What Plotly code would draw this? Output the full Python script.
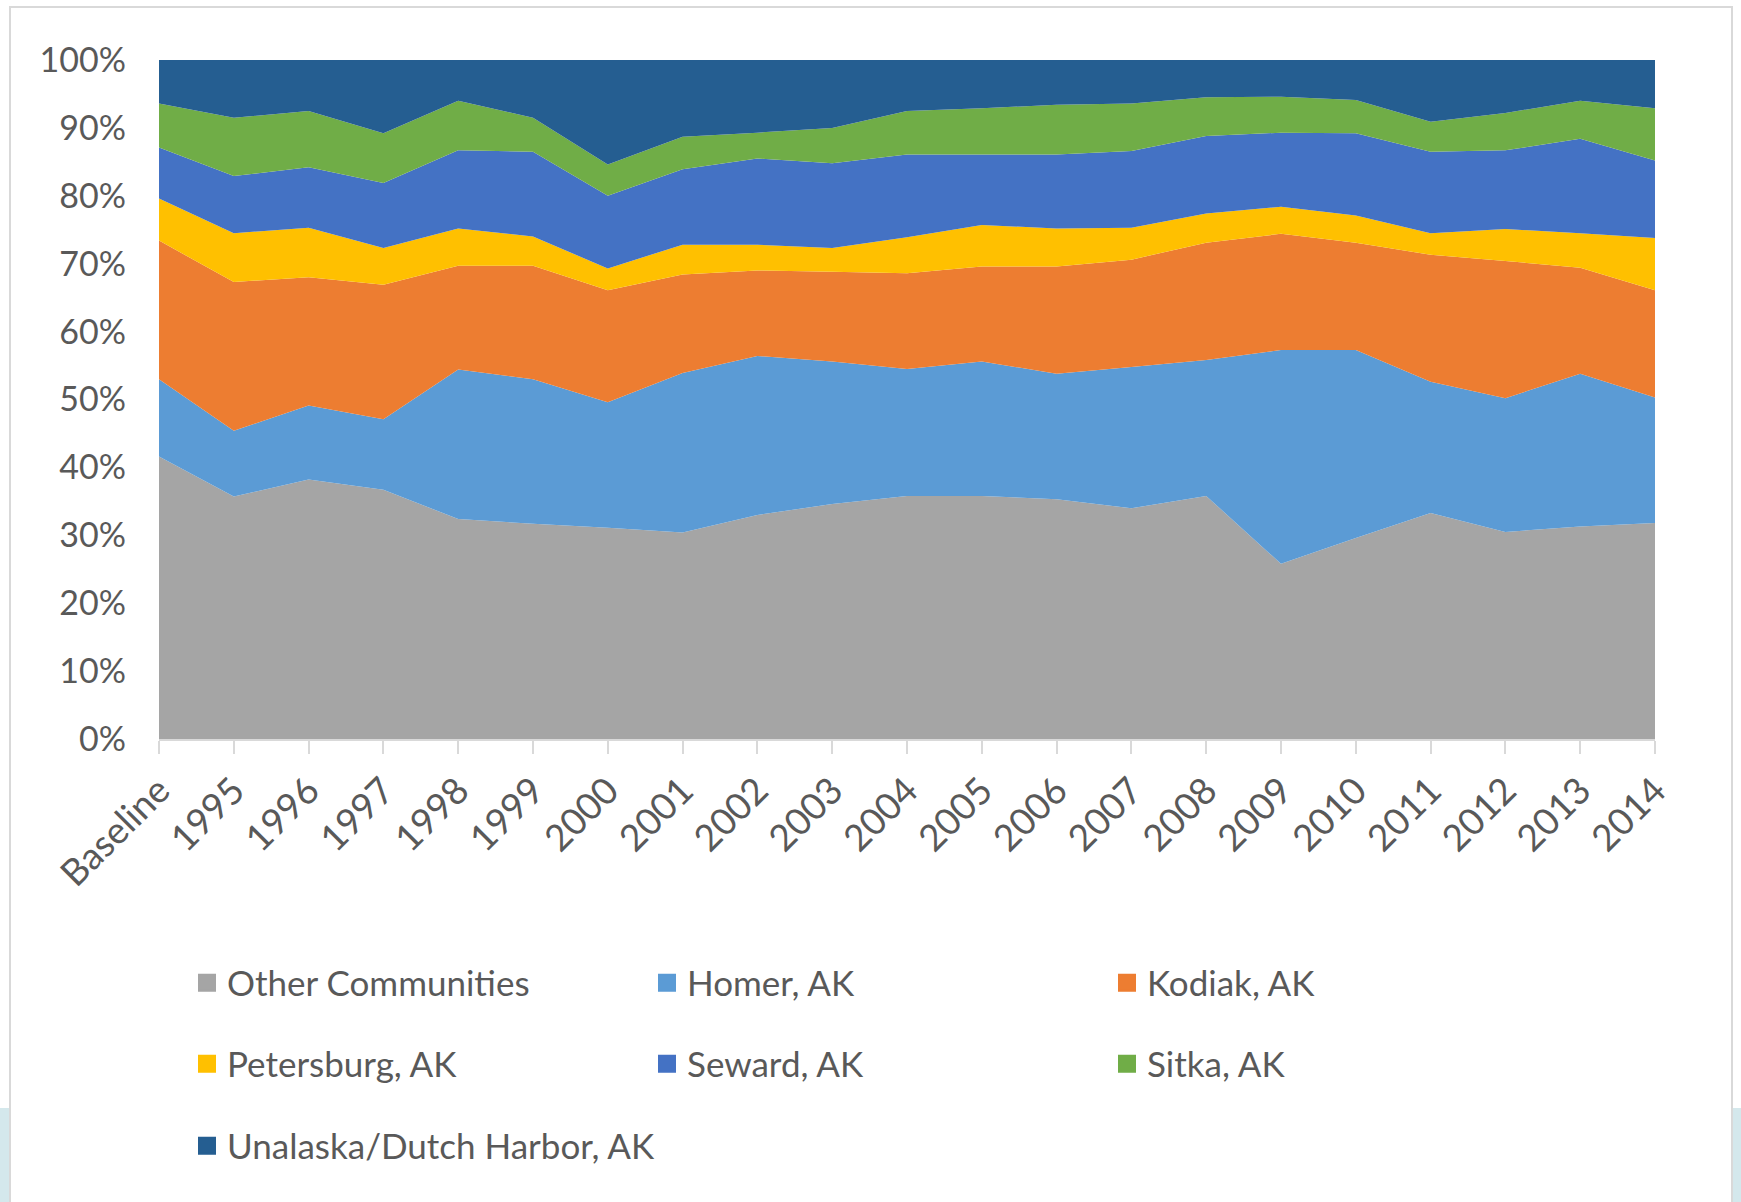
"""Stacked 100% area chart: share of landings by community."""

import plotly.graph_objects as go

CATEGORIES = ["Baseline"] + [str(y) for y in range(1995, 2015)]

# share of total (%) per community
OTHER = [41.6, 35.7, 38.2, 36.7, 32.4, 31.7, 31.1, 30.4, 33.0, 34.6, 35.8,
         35.8, 35.3, 34.0, 35.8, 25.8, 29.6, 33.3, 30.5, 31.3, 31.8]
HOMER = [11.4, 9.7, 10.9, 10.4, 22.0, 21.3, 18.5, 23.5, 23.4, 21.0, 18.7,
         19.8, 18.5, 20.8, 20.0, 31.5, 27.7, 19.3, 19.7, 22.5, 18.5]
KODIAK = [20.4, 21.9, 18.9, 19.8, 15.3, 16.7, 16.5, 14.5, 12.6, 13.2, 14.1,
          14.0, 15.8, 15.8, 17.3, 17.1, 15.8, 18.7, 20.2, 15.6, 15.8]
PETERSBURG = [6.2, 7.2, 7.3, 5.4, 5.5, 4.3, 3.2, 4.4, 3.8, 3.5, 5.3,
              6.1, 5.6, 4.7, 4.3, 4.0, 4.0, 3.2, 4.7, 5.1, 7.7]
SEWARD = [7.5, 8.4, 8.9, 9.6, 11.5, 12.5, 10.7, 11.1, 12.7, 12.5, 12.2,
          10.4, 10.9, 11.3, 11.4, 10.9, 12.1, 12.0, 11.6, 13.9, 11.4]
SITKA = [6.5, 8.6, 8.3, 7.3, 7.3, 5.0, 4.6, 4.8, 3.8, 5.2, 6.4,
         6.8, 7.3, 7.0, 5.7, 5.3, 4.9, 4.4, 5.5, 5.6, 7.7]
UNALASKA = [6.4, 8.5, 7.5, 10.8, 6.0, 8.5, 15.4, 11.3, 10.7, 10.0, 7.5,
            7.1, 6.6, 6.4, 5.5, 5.4, 5.9, 9.1, 7.8, 6.0, 7.1]

SERIES = [
    ("Other Communities", OTHER, "#A5A5A5", "legend"),
    ("Homer, AK", HOMER, "#5B9BD5", "legend"),
    ("Kodiak, AK", KODIAK, "#ED7D31", "legend"),
    ("Petersburg, AK", PETERSBURG, "#FFC000", "legend2"),
    ("Seward, AK", SEWARD, "#4472C4", "legend2"),
    ("Sitka, AK", SITKA, "#70AD47", "legend2"),
    ("Unalaska/Dutch Harbor, AK", UNALASKA, "#255E91", "legend3"),
]

FONT = "Lato, Calibri, sans-serif"
TEXT_COLOR = "#595959"

W, H = 1741, 1202
L, R, T, B = 159, 86, 60, 463
PW, PH = W - L - R, H - T - B


def px_x(x):
    return (x - L) / PW


def px_y(y):
    return (H - B - y) / PH


fig = go.Figure()

for name, vals, color, _ in SERIES:
    fig.add_trace(go.Scatter(
        x=CATEGORIES, y=vals, name=name,
        mode="none", stackgroup="one", groupnorm="percent",
        fillcolor=color, showlegend=False,
        hovertemplate="%{x}: %{y:.1f}%<extra>" + name + "</extra>",
    ))

# legend-only entries with square swatches
for name, vals, color, leg in SERIES:
    fig.add_trace(go.Scatter(
        x=[None], y=[None], name=name, mode="markers",
        marker=dict(symbol="square", size=16, color=color,
                    line=dict(color=color, width=2)),
        legend=leg, showlegend=True,
    ))

legend_common = dict(
    orientation="h", entrywidth=415, entrywidthmode="pixels",
    traceorder="normal",
    x=px_x(187), xanchor="left", yanchor="middle",
    font=dict(family=FONT, size=35, color=TEXT_COLOR),
    bgcolor="rgba(0,0,0,0)", itemclick=False,
)

shapes = [
    # card border
    dict(type="rect", xref="paper", yref="paper", layer="below",
         x0=px_x(10), x1=px_x(1732), y0=px_y(7), y1=px_y(1215),
         line=dict(color="#D9D9D9", width=2), fillcolor="white"),
    # slide background peeking out at the bottom corners
    dict(type="rect", xref="paper", yref="paper", layer="below",
         x0=px_x(0), x1=px_x(9), y0=px_y(1108), y1=px_y(1202),
         line=dict(width=0), fillcolor="#D4E8EC"),
    dict(type="rect", xref="paper", yref="paper", layer="below",
         x0=px_x(1733), x1=px_x(1741), y0=px_y(1108), y1=px_y(1202),
         line=dict(width=0), fillcolor="#D4E8EC"),
]

fig.update_layout(
    width=W, height=H,
    margin=dict(l=L, r=R, t=T, b=B, autoexpand=False),
    paper_bgcolor="white", plot_bgcolor="white",
    font=dict(family=FONT, color=TEXT_COLOR),
    hovermode="x unified",
    shapes=shapes,
    xaxis=dict(
        type="category", range=[0, len(CATEGORIES) - 1],
        tickangle=-45, tickfont=dict(size=37, color=TEXT_COLOR),
        ticks="outside", ticklen=13, tickcolor="#D9D9D9", tickwidth=2,
        showline=True, linecolor="#D9D9D9", linewidth=2,
        showgrid=False, zeroline=False, fixedrange=True,
    ),
    yaxis=dict(
        range=[0, 100], dtick=10, ticksuffix="%",
        tickfont=dict(size=34, color=TEXT_COLOR),
        ticks="", ticklabelstandoff=32,
        showline=False, showgrid=False, zeroline=False, fixedrange=True,
    ),
    legend=dict(legend_common, y=px_y(983)),
    legend2=dict(legend_common, y=px_y(1064)),
    legend3=dict(legend_common, y=px_y(1146), entrywidth=700),
)

# the page body has a default 8px margin; drop it so the figure sits at 0,0
fig.write_html(
    "out.html",
    config={"displayModeBar": False},
    post_script="document.body.style.margin = '0';",
)
